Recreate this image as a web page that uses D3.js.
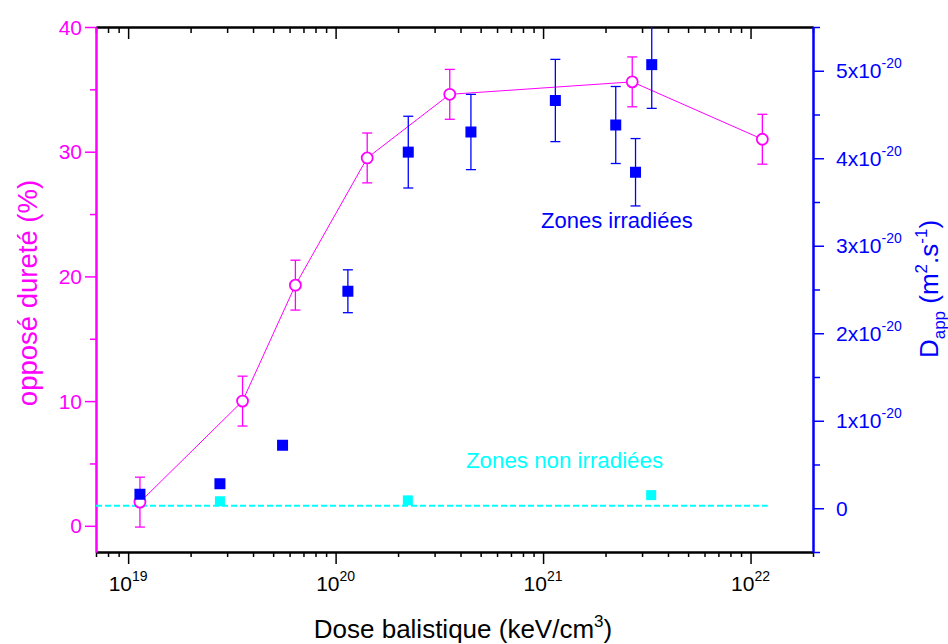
<!DOCTYPE html>
<html>
<head>
<meta charset="utf-8">
<script src="https://cdn.jsdelivr.net/npm/d3@7"></script>
<style>
  html, body { margin: 0; padding: 0; background: #fff; }
  svg { display: block; }
  text { font-family: Arial, "Liberation Sans", sans-serif; }
</style>
</head>
<body>
<svg id="chart" width="948" height="644"></svg>
<script>
// ---------- Data ----------
// Hardness series (left axis, %)
const hardDose = [1.14e19, 3.56e19, 6.4e19, 1.42e20, 3.55e20, 2.69e21, 1.14e22];
const hardValue = [1.9, 10, 19.3, 29.5, 34.6, 35.6, 31.0];
const hardErr = [2, 2, 2, 2, 2, 2, 2];

// Dapp irradiated zones (right axis, units of 1e-20 m2/s)
const irrDose = [1.14e19, 2.77e19, 5.55e19, 1.146e20, 2.24e20, 4.49e20, 1.146e21, 2.24e21, 2.79e21, 3.34e21];
const irrValue = [0.16, 0.28, 0.72, 2.48, 4.07, 4.30, 4.66, 4.38, 3.84, 5.07];
const irrErr = [0, 0, 0, 0.245, 0.41, 0.43, 0.47, 0.44, 0.385, 0.5];

// Dapp non irradiated zones (right axis, units of 1e-20 m2/s)
const nonDose = [2.77e19, 2.23e20, 3.32e21];
const nonValue = [0.08, 0.09, 0.15];
const nonLineValue = 0.03;
const nonLineDose = [7e18, 1.21e22];

// Axis ticks
const xMajor = [1e19, 1e20, 1e21, 1e22];
const xExp = ["19", "20", "21", "22"];
const leftMajor = [0, 10, 20, 30, 40];
const leftMinor = [5, 15, 25, 35];
const rightMajor = [0, 1, 2, 3, 4, 5];
const rightMinor = [-0.5, 0.5, 1.5, 2.5, 3.5, 4.5, 5.5];

// ---------- Layout ----------
const L = 96, R = 813, T = 27, B = 552;
const MAG = "#ff00ff", BLUE = "#0000ff", CYAN = "#00ffff";

const svg = d3.select("#chart");
const x = d3.scaleLog().domain([7e18, 2e22]).range([L, R]);
const yL = d3.scaleLinear().domain([-2.1, 40]).range([B, T]);
const yR = d3.scaleLinear().domain([-0.5, 5.5]).range([B, T]);

const xMinor = [];
for (let e = 18; e <= 22; e++) for (let m = 2; m <= 9; m++) {
  const v = m * Math.pow(10, e);
  if (v >= 7e18 * 0.999 && v <= 2e22 * 1.001) xMinor.push(v);
}

function styleAxis(g, color, width) {
  g.select(".domain").attr("stroke", color).attr("stroke-width", width);
  g.selectAll(".tick line").attr("stroke", color).attr("stroke-width", 1.5);
  g.selectAll(".tick text").remove();
}

// Bottom axis
svg.append("g").attr("transform", `translate(0,${B})`)
  .call(d3.axisBottom(x).tickValues(xMinor).tickSize(5).tickSizeOuter(0).tickFormat(""))
  .call(g => styleAxis(g, "#000", 2));
svg.append("g").attr("transform", `translate(0,${B})`)
  .call(d3.axisBottom(x).tickValues(xMajor).tickSize(12).tickSizeOuter(0).tickFormat(""))
  .call(g => styleAxis(g, "#000", 2));
// Top axis (ticks inward)
svg.append("g").attr("transform", `translate(0,${T})`)
  .call(d3.axisBottom(x).tickValues(xMinor).tickSize(6).tickSizeOuter(0).tickFormat(""))
  .call(g => styleAxis(g, "#000", 2));
svg.append("g").attr("transform", `translate(0,${T})`)
  .call(d3.axisBottom(x).tickValues(xMajor).tickSize(12).tickSizeOuter(0).tickFormat(""))
  .call(g => styleAxis(g, "#000", 2));

// Left axis
svg.append("g").attr("transform", `translate(${L},0)`)
  .call(d3.axisLeft(yL).tickValues(leftMinor).tickSize(6).tickSizeOuter(0).tickFormat(""))
  .call(g => styleAxis(g, MAG, 2));
svg.append("g").attr("transform", `translate(${L},0)`)
  .call(d3.axisLeft(yL).tickValues(leftMajor).tickSize(11).tickSizeOuter(0).tickFormat(""))
  .call(g => styleAxis(g, MAG, 2));
// Right axis
svg.append("g").attr("transform", `translate(${R},0)`)
  .call(d3.axisRight(yR).tickValues(rightMinor).tickSize(7).tickSizeOuter(0).tickFormat(""))
  .call(g => styleAxis(g, BLUE, 2));
svg.append("g").attr("transform", `translate(${R},0)`)
  .call(d3.axisRight(yR).tickValues(rightMajor).tickSize(11).tickSizeOuter(0).tickFormat(""))
  .call(g => styleAxis(g, BLUE, 2));

// Tick labels
const xl = svg.append("g").attr("font-size", 21).attr("fill", "#000");
xMajor.forEach((v, i) => {
  const t = xl.append("text").attr("x", x(v)).attr("y", 591).attr("text-anchor", "middle");
  t.append("tspan").text("10");
  t.append("tspan").attr("font-size", 14).attr("dy", -10).text(xExp[i]);
});
const ll = svg.append("g").attr("font-size", 21).attr("fill", MAG).attr("text-anchor", "end");
leftMajor.forEach(v => {
  ll.append("text").attr("x", 82).attr("y", yL(v) + 7.5).text(v);
});
const rl = svg.append("g").attr("font-size", 21).attr("fill", BLUE);
rightMajor.forEach(v => {
  const t = rl.append("text").attr("x", 836).attr("y", yR(v) + 7.5);
  if (v === 0) { t.text("0"); return; }
  t.append("tspan").text(v + "x10");
  t.append("tspan").attr("font-size", 14).attr("dy", -10).text("-20");
});

// Axis titles
const xt = svg.append("text").attr("x", 463).attr("y", 638).attr("text-anchor", "middle")
  .attr("font-size", 26).attr("fill", "#000");
xt.append("tspan").text("Dose balistique (keV/cm");
xt.append("tspan").attr("font-size", 17).attr("dy", -11).text("3");
xt.append("tspan").attr("dy", 11).text(")");

svg.append("text").attr("transform", "translate(37,293) rotate(-90)").attr("text-anchor", "middle")
  .attr("font-size", 27.5).attr("fill", MAG).text("opposé dureté (%)");

const yt = svg.append("text").attr("transform", "translate(938,289) rotate(-90)").attr("text-anchor", "middle")
  .attr("font-size", 26).attr("fill", BLUE);
yt.append("tspan").text("D");
yt.append("tspan").attr("font-size", 17).attr("dy", 7).text("app");
yt.append("tspan").attr("dy", -7).text(" (m");
yt.append("tspan").attr("font-size", 17).attr("dy", -11).text("2");
yt.append("tspan").attr("dy", 11).text(".s");
yt.append("tspan").attr("font-size", 17).attr("dy", -11).text("-1");
yt.append("tspan").attr("dy", 11).text(")");

// Clip
svg.append("clipPath").attr("id", "plotclip").append("rect")
  .attr("x", L).attr("y", T).attr("width", R - L).attr("height", B - T);
const plot = svg.append("g").attr("clip-path", "url(#plotclip)");

// Non-irradiated dashed line
plot.append("line")
  .attr("x1", x(nonLineDose[0])).attr("x2", x(nonLineDose[1]))
  .attr("y1", yR(nonLineValue)).attr("y2", yR(nonLineValue))
  .attr("stroke", CYAN).attr("stroke-width", 2).attr("stroke-dasharray", "6,3");

// Hardness line
const hard = hardDose.map((d, i) => ({ d, v: hardValue[i], e: hardErr[i] }));
plot.append("path").datum(hard)
  .attr("d", d3.line().x(p => x(p.d)).y(p => yL(p.v)))
  .attr("fill", "none").attr("stroke", MAG).attr("stroke-width", 1);

function errorBars(sel, data, yScale, color) {
  const g = sel.append("g").attr("stroke", color).attr("stroke-width", 1.3);
  data.filter(p => p.e > 0).forEach(p => {
    const cx = x(p.d), y1 = yScale(p.v - p.e), y2 = yScale(p.v + p.e);
    g.append("line").attr("x1", cx).attr("x2", cx).attr("y1", y1).attr("y2", y2);
    g.append("line").attr("x1", cx - 5).attr("x2", cx + 5).attr("y1", y1).attr("y2", y1);
    g.append("line").attr("x1", cx - 5).attr("x2", cx + 5).attr("y1", y2).attr("y2", y2);
  });
}
errorBars(plot, hard, yL, MAG);

plot.append("g").selectAll("circle").data(hard).join("circle")
  .attr("cx", p => x(p.d)).attr("cy", p => yL(p.v)).attr("r", 5.5)
  .attr("fill", "#fff").attr("stroke", MAG).attr("stroke-width", 1.8);

// Irradiated
const irr = irrDose.map((d, i) => ({ d, v: irrValue[i], e: irrErr[i] }));
errorBars(plot, irr, yR, BLUE);
plot.append("g").selectAll("rect").data(irr).join("rect")
  .attr("x", p => x(p.d) - 5.5).attr("y", p => yR(p.v) - 5.5)
  .attr("width", 11).attr("height", 11).attr("fill", BLUE);

// Non irradiated
const non = nonDose.map((d, i) => ({ d, v: nonValue[i] }));
plot.append("g").selectAll("rect").data(non).join("rect")
  .attr("x", p => x(p.d) - 5).attr("y", p => yR(p.v) - 5)
  .attr("width", 10).attr("height", 10).attr("fill", CYAN);

// Annotations
svg.append("text").attr("x", 541).attr("y", 228).attr("font-family", "Lato, 'Open Sans', sans-serif")
  .attr("font-size", 22).attr("fill", BLUE).text("Zones irradiées");
svg.append("text").attr("x", 466).attr("y", 468).attr("font-family", "Lato, 'Open Sans', sans-serif")
  .attr("font-size", 22.3).attr("fill", CYAN).text("Zones non irradiées");
</script>
</body>
</html>
